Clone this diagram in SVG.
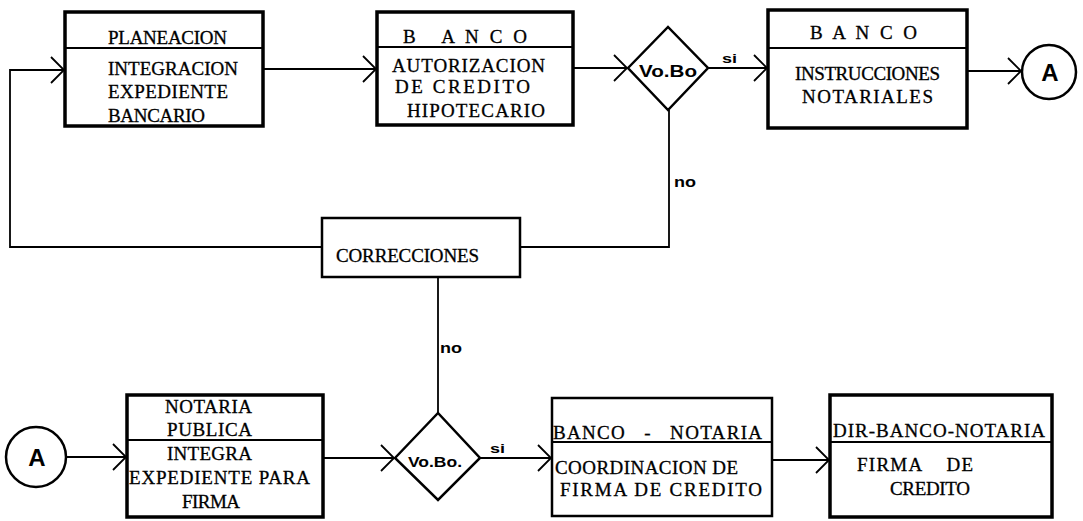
<svg xmlns="http://www.w3.org/2000/svg" width="1083" height="521" viewBox="0 0 1083 521">
<style>
.bg{fill:#fff}
.box{fill:none;stroke:#000;stroke-width:3.5}
.box2{fill:none;stroke:#000;stroke-width:2.5}
.div{stroke:#000;stroke-width:2}
.t{font-family:"Liberation Serif","Times New Roman",serif;font-size:19px;fill:#000;stroke:#000;stroke-width:0.3;white-space:pre}
.s{font-family:"Liberation Sans",Arial,sans-serif;font-weight:bold;fill:#000}
.c{fill:none;stroke:#000;stroke-width:1.8}
.dia{fill:none;stroke:#000;stroke-width:2.5}
</style>
<defs>
<marker id="arr" viewBox="-16 -15 18 30" markerWidth="18" markerHeight="30" refX="0" refY="0" orient="auto" markerUnits="userSpaceOnUse">
<path d="M-13,-13 L0,0 L-13,13" fill="none" stroke="#000" stroke-width="1.8"/>
</marker>
</defs>
<rect class="bg" x="0" y="0" width="1083" height="521"/>

<g id="connectors">
<polyline class="c" points="322,247 10,247 10,70 64,70" marker-end="url(#arr)"/>
<line class="c" x1="263" y1="69" x2="376" y2="69" marker-end="url(#arr)"/>
<line class="c" x1="573" y1="68" x2="627" y2="68" marker-end="url(#arr)"/>
<line class="c" x1="708" y1="68" x2="767" y2="68" marker-end="url(#arr)"/>
<line class="c" x1="967" y1="71" x2="1021" y2="71" marker-end="url(#arr)"/>
<polyline class="c" points="520,247 669,247 669,110"/>
<line class="c" x1="438" y1="277" x2="438" y2="413"/>
<line class="c" x1="66" y1="457" x2="126" y2="457" marker-end="url(#arr)"/>
<line class="c" x1="323" y1="458" x2="394" y2="458" marker-end="url(#arr)"/>
<line class="c" x1="480" y1="458" x2="551" y2="458" marker-end="url(#arr)"/>
<line class="c" x1="772" y1="460" x2="829" y2="460" marker-end="url(#arr)"/>
<text class="s" x="722" y="63" font-size="12" textLength="15" lengthAdjust="spacingAndGlyphs">si</text>
<text class="s" x="674" y="187" font-size="15" textLength="22" lengthAdjust="spacingAndGlyphs">no</text>
<text class="s" x="440" y="353" font-size="15" textLength="22" lengthAdjust="spacingAndGlyphs">no</text>
<text class="s" x="490" y="453" font-size="12" textLength="15" lengthAdjust="spacingAndGlyphs">si</text>
</g>

<g id="planeacion">
<rect class="box" x="65" y="12" width="198" height="114"/>
<line class="div" x1="65" y1="48" x2="263" y2="48"/>
<text class="t" x="108" y="44" textLength="119">PLANEACION</text>
<text class="t" x="108" y="75" textLength="130">INTEGRACION</text>
<text class="t" x="108" y="98" textLength="120">EXPEDIENTE</text>
<text class="t" x="108" y="122" textLength="97">BANCARIO</text>
</g>

<g id="banco-autorizacion">
<rect class="box" x="377" y="12" width="196" height="113"/>
<line class="div" x1="377" y1="47" x2="573" y2="47"/>
<text class="t" x="403" y="43" textLength="124">B   A N C O</text>
<text class="t" x="392" y="72" textLength="153">AUTORIZACION</text>
<text class="t" x="395" y="93" textLength="135">DE CREDITO</text>
<text class="t" x="407" y="117" textLength="138">HIPOTECARIO</text>
</g>

<g id="vobo1">
<polygon class="dia" points="628,68 668,27 708,68 668,110"/>
<text class="s" x="639" y="77" font-size="16" textLength="58" lengthAdjust="spacingAndGlyphs">Vo.Bo</text>
</g>

<g id="banco-instrucciones">
<rect class="box" x="768" y="10" width="199" height="118"/>
<line class="div" x1="768" y1="48" x2="967" y2="48"/>
<text class="t" x="810" y="39" textLength="107">B A N C O</text>
<text class="t" x="795" y="80" textLength="145">INSTRUCCIONES</text>
<text class="t" x="802" y="103" textLength="131">NOTARIALES</text>
</g>

<g id="conector-a1">
<circle class="dia" cx="1049" cy="72" r="27"/>
<text class="s" x="1050" y="81" font-size="24" text-anchor="middle">A</text>
</g>

<g id="correcciones">
<rect class="box2" x="322" y="218" width="198" height="59"/>
<text class="t" x="336" y="262" textLength="143">CORRECCIONES</text>
</g>

<g id="conector-a2">
<circle class="dia" cx="36" cy="457" r="30"/>
<text class="s" x="37" y="466" font-size="24" text-anchor="middle">A</text>
</g>

<g id="notaria-publica">
<rect class="box" x="127" y="395" width="196" height="122"/>
<line class="div" x1="127" y1="440" x2="323" y2="440"/>
<text class="t" x="165" y="413" textLength="87">NOTARIA</text>
<text class="t" x="167" y="436" textLength="85">PUBLICA</text>
<text class="t" x="167" y="460" textLength="85">INTEGRA</text>
<text class="t" x="129" y="484" textLength="181">EXPEDIENTE PARA</text>
<text class="t" x="182" y="508" textLength="58">FIRMA</text>
</g>

<g id="vobo2">
<polygon class="dia" points="395,458 438,413 480,458 438,500"/>
<text class="s" x="408" y="467" font-size="15" textLength="54" lengthAdjust="spacingAndGlyphs">Vo.Bo.</text>
</g>

<g id="banco-notaria">
<rect class="box2" x="552" y="398" width="220" height="118"/>
<line class="div" x1="552" y1="442" x2="772" y2="442"/>
<text class="t" x="553" y="439" textLength="209">BANCO   -   NOTARIA</text>
<text class="t" x="555" y="474" textLength="183">COORDINACION DE</text>
<text class="t" x="560" y="496" textLength="202">FIRMA DE CREDITO</text>
</g>

<g id="dir-banco-notaria">
<rect class="box" x="830" y="395" width="222" height="122"/>
<line class="div" x1="830" y1="442" x2="1052" y2="442"/>
<text class="t" x="833" y="437" textLength="212">DIR-BANCO-NOTARIA</text>
<text class="t" x="857" y="471" textLength="116">FIRMA    DE</text>
<text class="t" x="890" y="495" textLength="80">CREDITO</text>
</g>
</svg>
